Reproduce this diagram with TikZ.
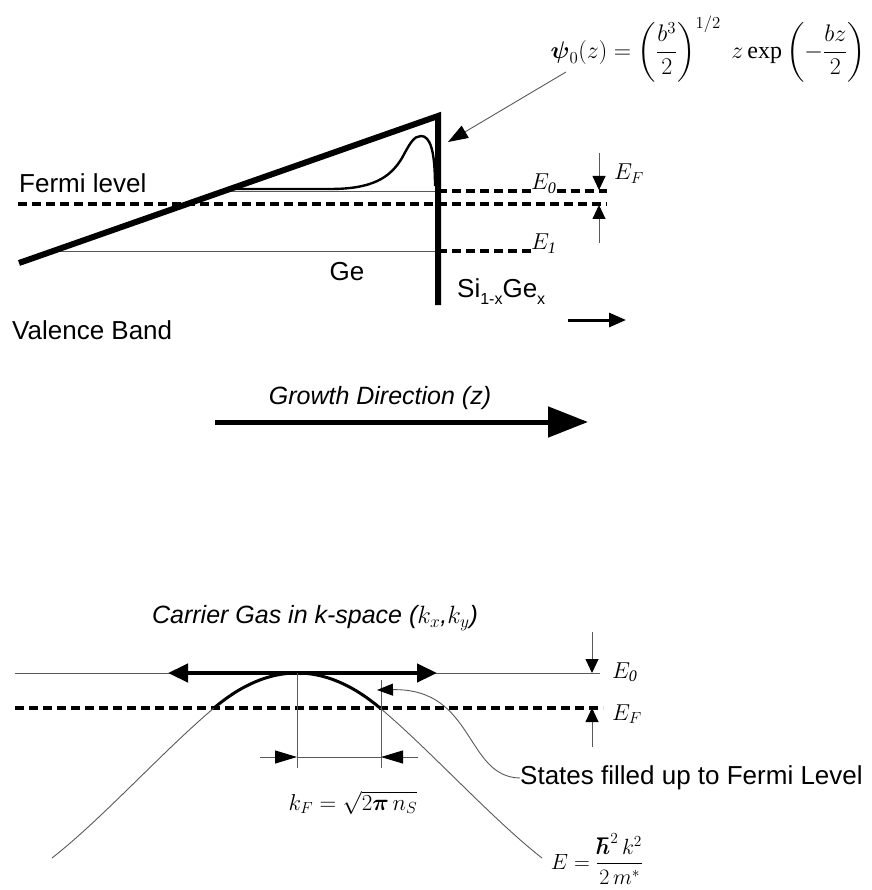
\RequirePackage{fix-cm}
\documentclass[tikz,border=0pt]{standalone}
\usepackage{amsmath}
\usepackage{fontspec}
\setmainfont{Liberation Serif}
\newfontfamily\arialf{Liberation Sans}
\usetikzlibrary{arrows.meta}
\tikzset{
  band/.style={line width=6pt, line join=miter, line cap=butt},
  thinl/.style={line width=0.9pt, draw=black!65},
  dashl/.style={line width=3.6pt, dash pattern=on 9pt off 5pt},
  sanslbl/.style={inner sep=0pt, font=\arialf\fontsize{26}{30}\selectfont},
  sansit/.style={inner sep=0pt, font=\arialf\itshape\fontsize{25}{30}\selectfont},
  mathlbl/.style={inner sep=0pt, font=\fontsize{23}{28}\selectfont},
  smalltip/.style={-{Triangle[length=14pt,width=13pt,color=black]}},
}
\newcommand{\lowsub}[1]{\raisebox{-7pt}{\fontsize{16}{18}\selectfont #1}}
\begin{document}
\begin{tikzpicture}[x=1pt,y=-1pt]
\useasboundingbox (0,0) rectangle (871,890);

% ---------------- top: band diagram ----------------
\coordinate (bl) at (19,263);
\coordinate (bt) at (438,116);
\coordinate (bb) at (438,305);
\coordinate (e0l) at (224,191);
\coordinate (e0w) at (438,191);
\coordinate (e1l) at (53,251);
\coordinate (e1w) at (438,251);

% thin levels inside the well
\draw[thinl] (e0l) -- (e0w);
\draw[thinl] (e1l) -- (e1w);

% Fermi level (dashed)
\coordinate (fl) at (18,204);
\coordinate (fr) at (607,204);
\draw[dashl] (fl) -- (fr);

% wavefunction
\draw[line width=2.4pt] (226,189) -- (330,189)
   .. controls (372,189) and (390,178) .. (402,158)
   .. controls (410,143) and (414,136) .. (421,136)
   .. controls (430,136) and (435,150) .. (435,186);

% band edge and wall
\draw[band] (bl) -- (bt) -- (bb);

% E0 / E1 dashed continuations and labels
\node[mathlbl, anchor=base west] (E0) at (531,190) {$E_{\mathit{0}}$};
\node[mathlbl, anchor=base west] (E1) at (531,250) {$E_{\mathit{1}}$};
\coordinate (e0r) at (607,191);
\draw[dashl] (e0w) -- (E0.west |- e0w);
\draw[dashl] (E0.east |- e0w) -- (e0r);
\draw[dashl] (e1w) -- (E1.west |- e1w);

% E_F marker
\coordinate (efa1) at (599,153);
\coordinate (efa1t) at (599,190);
\coordinate (efa2) at (599,243);
\coordinate (efa2t) at (599,205);
\draw[thinl, smalltip] (efa1) -- (efa1t);
\draw[thinl, smalltip] (efa2) -- (efa2t);
\node[mathlbl, anchor=base west] (EF) at (614,180) {$E_F$};

% labels
\node[sanslbl, anchor=west] (fermi) at (19,183) {Fermi level};
\node[sanslbl, anchor=west] (vb) at (12,330) {Valence Band};
\node[sanslbl] (ge) at (347,272) {Ge};
\node[sanslbl, anchor=west] (sige) at (457,292) {Si\lowsub{1-x}Ge\lowsub{x}};

% small direction arrow
\coordinate (sa1) at (568,320);
\coordinate (sa2) at (626,320);
\draw[line width=3pt, -{Triangle[length=17pt,width=14pt]}] (sa1) -- (sa2);

% wavefunction formula
\node[inner sep=0pt, anchor=east, font=\fontsize{24}{28}\selectfont] (psi) at (866,49)
  {$\displaystyle \boldsymbol{\psi}_0(z)=\left(\frac{b^3}{2}\right)^{1/2}\;z\exp\left(-\frac{bz}{2}\right)$};
\coordinate (psis) at (566,72);
\coordinate (psit) at (448,142);
\draw[thinl, -{Triangle[length=20pt,width=14pt,color=black]}] (psis) -- (psit);

% growth direction
\node[sansit] (growth) at (380,398) {Growth Direction (z)};
\coordinate (g1) at (215,422);
\coordinate (g2) at (588,422);
\draw[line width=5pt, -{Triangle[length=40pt,width=30pt]}] (g1) -- (g2);

% ---------------- bottom: k-space ----------------
\node[sansit] (carrier) at (315,618) {Carrier Gas in k-space ({\normalfont$k_x$},{\normalfont$k_y$})};

\coordinate (b0l) at (15,673);
\coordinate (b0r) at (600,673);
\draw[thinl] (b0l) -- (b0r);
\coordinate (da1) at (168,673);
\coordinate (da2) at (437,673);
\draw[line width=4.5pt, {Triangle[length=20pt,width=18pt]}-{Triangle[length=20pt,width=18pt]}] (da1) -- (da2);

\coordinate (bfl) at (15,708);
\coordinate (bfr) at (603,708);
\draw[dashl] (bfl) -- (bfr);

% dispersion
\coordinate (pl) at (214,708);
\coordinate (pr) at (380,708);
\coordinate (pend1) at (52,858);
\coordinate (pend2) at (542,858);
\draw[thinl] (pl) .. controls (164,750) and (102,819) .. (pend1);
\draw[thinl] (pr) .. controls (430,750) and (492,819) .. (pend2);
\draw[line width=3pt] (pl) .. controls (269.3,661.3) and (324.7,661.3) .. (pr);

% k_F dimension
\coordinate (v1t) at (297,673);
\coordinate (v1b) at (297,768);
\coordinate (v2t) at (381,680);
\coordinate (v2b) at (381,768);
\draw[thinl] (v1t) -- (v1b);
\draw[thinl] (v2t) -- (v2b);
\coordinate (d1) at (260,757);
\coordinate (d1t) at (297,757);
\coordinate (d2) at (418,757);
\coordinate (d2t) at (381,757);
\draw[thinl] (d1t) -- (d2t);
\draw[thinl, -{Triangle[length=22pt,width=13pt,color=black]}] (d1) -- (d1t);
\draw[thinl, -{Triangle[length=22pt,width=13pt,color=black]}] (d2) -- (d2t);
\node[inner sep=0pt, font=\fontsize{23}{28}\selectfont] (kf) at (353,803) {$k_F=\sqrt{2\boldsymbol{\pi}\,n_S}$};

% E0 / EF markers on the right
\coordinate (ba1) at (592,632);
\coordinate (ba1t) at (592,673);
\coordinate (ba2) at (592,747);
\coordinate (ba2t) at (592,708);
\draw[thinl, smalltip] (ba1) -- (ba1t);
\draw[thinl, smalltip] (ba2) -- (ba2t);
\node[mathlbl, anchor=base west] (bE0) at (612,678) {$E_{\mathit{0}}$};
\node[mathlbl, anchor=base west] (bEF) at (612,720) {$E_F$};

% states filled
\node[sanslbl, anchor=west] (states) at (520,778) {States filled up to Fermi Level};
\coordinate (stt) at (377,690);
\draw[thinl, -{Triangle[length=16pt,width=12pt,color=black]}] (states.west) .. controls (465,777) and (475,688) .. (stt);

% dispersion formula
\node[inner sep=0pt, font=\fontsize{22}{26}\selectfont] (Eform) at (597,859)
  {$\displaystyle E=\frac{\boldsymbol{\hbar}^2\,k^2}{2\,m^*}$};
\end{tikzpicture}
\end{document}
